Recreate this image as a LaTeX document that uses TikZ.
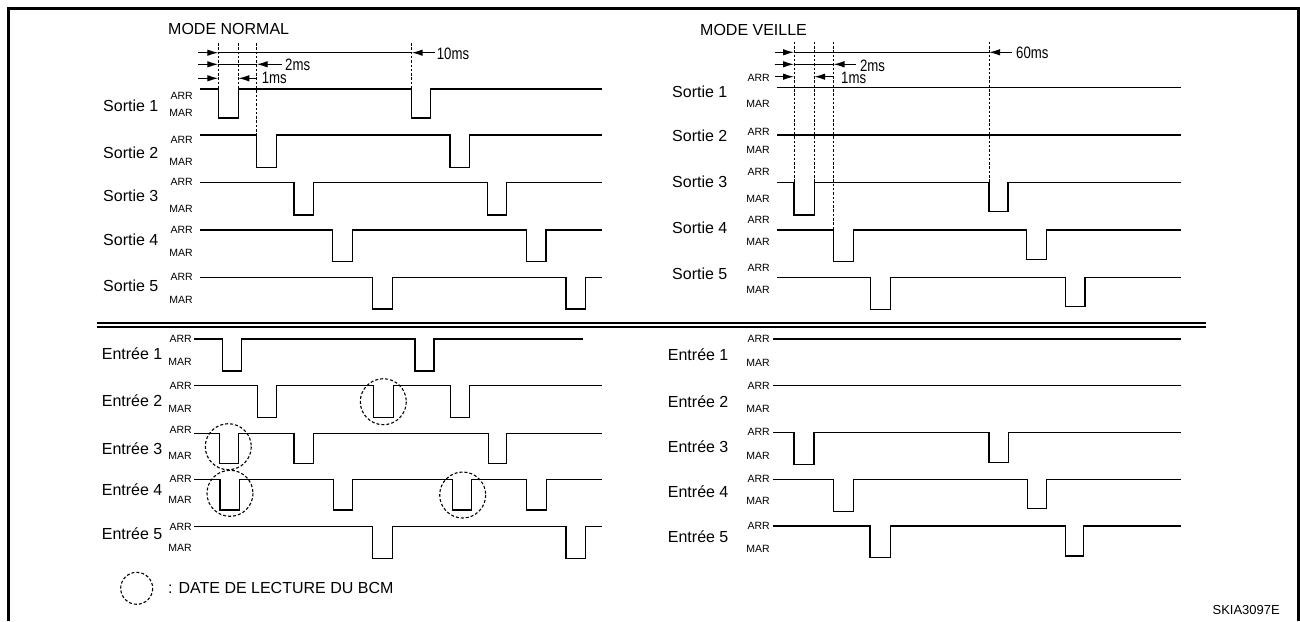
\documentclass[tikz,border=0pt]{standalone}
\usepackage{fontspec}
\setmainfont{Liberation Sans}
\newfontfamily\msfont[FakeStretch=0.8]{Liberation Sans}
\usetikzlibrary{arrows.meta}
\begin{document}
\begin{tikzpicture}[x=1pt,y=-1pt,
  sig/.style={line width=1.4pt},
  vdash/.style={line width=0.9pt, dash pattern=on 2.5pt off 1.8pt},
  dimline/.style={line width=1.1pt},
  dimarr/.style={line width=1.1pt,-{Latex[length=11pt,width=6.5pt]}},
  rcirc/.style={line width=1.1pt, dash pattern=on 3pt off 2pt},
  lvl/.style={font=\fontsize{10.5}{11}\selectfont, inner sep=0pt, anchor=east},
  sname/.style={font=\fontsize{16}{18}\selectfont, inner sep=0pt, anchor=west},
  ttl/.style={font=\fontsize{16}{18}\selectfont, inner sep=0pt, anchor=west},
  ms/.style={font=\msfont\fontsize{16.5}{18}\selectfont, inner sep=0pt, anchor=west},
]
\useasboundingbox (0,0) rectangle (1300,621);
% frame
\draw[line width=3pt] (8,621) -- (8,8) -- (1298,8) -- (1298,621);
% separator
\draw[line width=1.4pt] (97,323) -- (1206,323);
\draw[line width=1.4pt] (97,327) -- (1206,327);

% titles
\node[ttl] (tN) at (168,29) {MODE NORMAL};
\node[ttl] (tV) at (700,30) {MODE VEILLE};

% ---------- LEFT: timing dimensions
\draw[vdash] (218.3,43) -- (218.3,89);
\draw[vdash] (238.3,43) -- (238.3,89);
\draw[vdash] (256.7,43) -- (256.7,135);
\draw[vdash] (411.7,43) -- (411.7,89);
\draw[dimarr] (198,52.7) -- (218.3,52.7);
\draw[dimline] (218.3,52.7) -- (411.7,52.7);
\draw[dimarr] (435,52.7) -- (411.7,52.7);
\node[ms] (m10) at (436.7,54.3) {10ms};
\draw[dimarr] (198,64.3) -- (218.3,64.3);
\draw[dimline] (218.3,64.3) -- (256.7,64.3);
\draw[dimarr] (281.7,64.3) -- (256.7,64.3);
\node[ms] (m2L) at (285,65.3) {2ms};
\draw[dimarr] (198,78.3) -- (218.3,78.3);
\draw[dimarr] (256.7,78.3) -- (238.3,78.3);
\node[ms] (m1L) at (261.7,78.3) {1ms};

% ---------- RIGHT: timing dimensions
\draw[vdash] (794,41.7) -- (794,182.3);
\draw[vdash] (814.2,41.7) -- (814.2,182.3);
\draw[vdash] (833.5,41.7) -- (833.5,230);
\draw[vdash] (989,41.7) -- (989,182.3);
\draw[dimarr] (774.7,52.3) -- (794,52.3);
\draw[dimline] (794,52.3) -- (989,52.3);
\draw[dimarr] (1012.3,52.3) -- (989,52.3);
\node[ms] (m60) at (1016,53.3) {60ms};
\draw[dimarr] (774.7,64.3) -- (794,64.3);
\draw[dimline] (794,64.3) -- (833.5,64.3);
\draw[dimarr] (856,64.3) -- (833.5,64.3);
\node[ms] (m2R) at (859.8,66) {2ms};
\draw[dimarr] (774.7,76.7) -- (794,76.7);
\draw[dimarr] (833,76.7) -- (814.2,76.7);
\node[ms] (m1R) at (841,78) {1ms};

% ---------- LEFT Sortie labels
\node[sname] (sL1) at (103,106) {Sortie 1};
\node[sname] (sL2) at (103,152.7) {Sortie 2};
\node[sname] (sL3) at (103,196) {Sortie 3};
\node[sname] (sL4) at (103,239.3) {Sortie 4};
\node[sname] (sL5) at (103,286) {Sortie 5};
\node[lvl] (aL1) at (193,95.7) {ARR}; \node[lvl] (bL1) at (193,113) {MAR};
\node[lvl] (aL2) at (193,140) {ARR}; \node[lvl] (bL2) at (193,161.7) {MAR};
\node[lvl] (aL3) at (193,182) {ARR}; \node[lvl] (bL3) at (193,209) {MAR};
\node[lvl] (aL4) at (193,230) {ARR}; \node[lvl] (bL4) at (193,252.7) {MAR};
\node[lvl] (aL5) at (193,277) {ARR}; \node[lvl] (bL5) at (193,300) {MAR};

% LEFT Sortie waves
\draw[sig] (200,89) -| (218.3,118) -| (238.3,89) -| (411.7,118) -| (430.7,89) -- (602,89);
\draw[sig] (200,135) -| (256.7,167.3) -| (276.7,135) -| (450,167.3) -| (469.3,135) -- (602,135);
\draw[sig] (200,182.3) -| (294,215) -| (313.3,182.3) -| (487.3,215) -| (506.7,182.3) -- (602,182.3);
\draw[sig] (200,230) -| (332.7,261.7) -| (352.7,230) -| (526.7,261.7) -| (546,230) -- (602,230);
\draw[sig] (200,277.3) -| (372.7,309) -| (392.3,277.3) -| (566,309) -| (585.7,277.3) -- (602,277.3);

% ---------- RIGHT Sortie labels
\node[sname] (sR1) at (672,91.7) {Sortie 1};
\node[sname] (sR2) at (672,136) {Sortie 2};
\node[sname] (sR3) at (672,181.7) {Sortie 3};
\node[sname] (sR4) at (672,227.3) {Sortie 4};
\node[sname] (sR5) at (672,273.3) {Sortie 5};
\node[lvl] (aR1) at (770,78) {ARR}; \node[lvl] (bR1) at (770,104.3) {MAR};
\node[lvl] (aR2) at (770,131.7) {ARR}; \node[lvl] (bR2) at (770,150) {MAR};
\node[lvl] (aR3) at (770,171.7) {ARR}; \node[lvl] (bR3) at (770,199) {MAR};
\node[lvl] (aR4) at (770,220) {ARR}; \node[lvl] (bR4) at (770,241.7) {MAR};
\node[lvl] (aR5) at (770,267.7) {ARR}; \node[lvl] (bR5) at (770,290) {MAR};

% RIGHT Sortie waves
\draw[sig] (777,87.7) -- (1181,87.7);
\draw[sig] (777,135) -- (1181,135);
\draw[sig] (777,182.3) -| (794,215) -| (814.2,182.3) -| (989,211.7) -| (1008,182.3) -- (1181,182.3);
\draw[sig] (777,230) -| (833.5,261.7) -| (853.3,230) -| (1026.7,259.3) -| (1046.4,230) -- (1181,230);
\draw[sig] (777,277.3) -| (870.5,309.3) -| (890.3,277.3) -| (1065.5,306.7) -| (1084.9,277.3) -- (1181,277.3);

% ---------- LEFT Entree labels
\node[sname] (eL1) at (101.7,353.3) {Entrée 1};
\node[sname] (eL2) at (101.7,400.7) {Entrée 2};
\node[sname] (eL3) at (101.7,448.3) {Entrée 3};
\node[sname] (eL4) at (101.7,489.3) {Entrée 4};
\node[sname] (eL5) at (101.7,533.3) {Entrée 5};
\node[lvl] (cL1) at (192,339) {ARR}; \node[lvl] (dL1) at (192,361.7) {MAR};
\node[lvl] (cL2) at (192,385.7) {ARR}; \node[lvl] (dL2) at (192,409.3) {MAR};
\node[lvl] (cL3) at (192,430) {ARR}; \node[lvl] (dL3) at (192,455.7) {MAR};
\node[lvl] (cL4) at (192,479) {ARR}; \node[lvl] (dL4) at (192,500) {MAR};
\node[lvl] (cL5) at (192,526.7) {ARR}; \node[lvl] (dL5) at (192,548.3) {MAR};

% LEFT Entree waves
\draw[sig] (194,339) -| (222.7,371) -| (241.7,339) -| (415,371) -| (434,339) -- (583.3,339);
\draw[sig] (194,385.7) -| (257.3,417.3) -| (276.7,385.7) -| (373.3,417.3) -| (393.3,385.7) -| (450.7,417.3) -| (469.3,385.7) -- (602,385.7);
\draw[sig] (194,433.3) -| (219.3,463.3) -| (238.3,433.3) -| (294,463.3) -| (313.3,433.3) -| (488.3,463.3) -| (506.7,433.3) -- (602,433.3);
\draw[sig] (194,479.3) -| (220,510) -| (239.3,479.3) -| (333.3,510) -| (352.7,479.3) -| (452.7,510) -| (471.7,479.3) -| (526.7,510) -| (546.7,479.3) -- (602,479.3);
\draw[sig] (194,526.7) -| (372.7,558.3) -| (392.3,526.7) -| (566,558.3) -| (585.7,526.7) -- (602,526.7);

% read-time circles
\draw[rcirc] (383.3,401.7) circle[radius=23];
\draw[rcirc] (228.3,446.7) circle[radius=23];
\draw[rcirc] (230,493.3) circle[radius=23];
\draw[rcirc] (462.7,495) circle[radius=23];

% ---------- RIGHT Entree labels
\node[sname] (eR1) at (667.7,355) {Entrée 1};
\node[sname] (eR2) at (667.7,401.7) {Entrée 2};
\node[sname] (eR3) at (667.7,446.7) {Entrée 3};
\node[sname] (eR4) at (667.7,491.7) {Entrée 4};
\node[sname] (eR5) at (667.7,536.7) {Entrée 5};
\node[lvl] (cR1) at (770,339) {ARR}; \node[lvl] (dR1) at (770,362.7) {MAR};
\node[lvl] (cR2) at (770,385.7) {ARR}; \node[lvl] (dR2) at (770,409.3) {MAR};
\node[lvl] (cR3) at (770,432.3) {ARR}; \node[lvl] (dR3) at (770,456) {MAR};
\node[lvl] (cR4) at (770,479.3) {ARR}; \node[lvl] (dR4) at (770,500.7) {MAR};
\node[lvl] (cR5) at (770,526) {ARR}; \node[lvl] (dR5) at (770,549.3) {MAR};

% RIGHT Entree waves
\draw[sig] (773,339) -- (1181,339);
\draw[sig] (773,385.7) -- (1181,385.7);
\draw[sig] (773,432.3) -| (794,464.3) -| (814,432.3) -| (989,462.3) -| (1008.7,432.3) -- (1181,432.3);
\draw[sig] (773,479.3) -| (833.5,511.7) -| (853.3,479.3) -| (1027.4,508.3) -| (1046.4,479.3) -- (1181,479.3);
\draw[sig] (773,526) -| (870,557.7) -| (890.4,526) -| (1065.4,556) -| (1083.5,526) -- (1181,526);

% legend
\draw[rcirc] (136.7,588.3) circle[radius=16];
\node[sname] (leg) at (168,588.3) {: DATE DE LECTURE DU BCM};
\node[font=\fontsize{13}{15}\selectfont, inner sep=0pt, anchor=east] (ref) at (1280,610) {SKIA3097E};
\end{tikzpicture}
\end{document}
